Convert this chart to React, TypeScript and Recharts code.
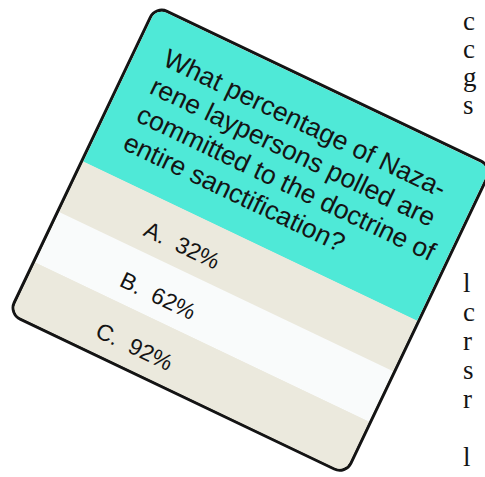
import { BarChart, Bar, XAxis, YAxis, LabelList } from "recharts";

// question card, scanned at an angle
const QUESTION_LINES = [
  "What percentage of Naza-",
  "rene laypersons polled are",
  "committed to the doctrine of",
  "entire sanctification?",
];
const OPTION_KEYS = ["A.", "B.", "C."];
const OPTION_VALUES = [32, 62, 92];
const STRIPE_FILLS = ["#ebe9dd", "#f9fbfb", "#ebe9dd"];

// clipped letters of the neighbouring text column
const COLUMN_TOP = ["c", "c", "g", "s"];
const COLUMN_BOTTOM = ["l", "c", "r", "s", "r", "", "l"];

const CYAN = "#4fe9d7";
const INK = "#141414";

const data = OPTION_KEYS.map((key, i) => ({ key, value: OPTION_VALUES[i] }));

function OptionLabel(props: any) {
  const { x, y, height, index } = props;
  return (
    <text
      x={x + 85}
      y={y + height / 2 + 5}
      dominantBaseline="central"
      fontFamily="'Liberation Sans', Arial, sans-serif"
      fontSize={23}
      fill={INK}
      style={{ whiteSpace: "pre" }}
    >
      {`${OPTION_KEYS[index]}  ${OPTION_VALUES[index]}%`}
    </text>
  );
}

function Stripe(props: any) {
  const { x, y, width, height, index } = props;
  return <rect x={x} y={y} width={width} height={height} fill={STRIPE_FILLS[index]} />;
}

const serif = "'Liberation Serif', 'Times New Roman', serif";

export default function App() {
  return (
    <div style={{ position: "fixed", left: 0, top: 0, width: 485, height: 477, overflow: "hidden", background: "#fff" }}>
      <div
        style={{
          position: "absolute",
          left: 155,
          top: 4,
          width: 376,
          height: 344,
          transform: "rotate(25.5deg)",
          transformOrigin: "0 0",
          border: `3px solid ${INK}`,
          borderRadius: 14,
          overflow: "hidden",
          boxSizing: "border-box",
          background: STRIPE_FILLS[0],
        }}
      >
        <div
          style={{
            height: 170,
            background: CYAN,
            boxSizing: "border-box",
            paddingTop: 25,
            paddingLeft: 29,
            fontFamily: "'Liberation Sans', Arial, sans-serif",
            fontSize: 26.5,
            lineHeight: "31px",
            color: INK,
            whiteSpace: "nowrap",
          }}
        >
          {QUESTION_LINES.map((line) => (
            <div key={line}>{line}</div>
          ))}
        </div>
        <BarChart
          width={370}
          height={168}
          data={data}
          layout="vertical"
          barCategoryGap={0}
          margin={{ top: 0, right: 0, bottom: 0, left: 0 }}
        >
          <XAxis type="number" domain={[0, 100]} hide />
          <YAxis type="category" dataKey="key" hide />
          <Bar dataKey="value" fill="none" background={<Stripe />} isAnimationActive={false}>
            <LabelList dataKey="value" content={<OptionLabel />} />
          </Bar>
        </BarChart>
      </div>

      <div style={{ position: "absolute", left: 463, top: 7, fontFamily: serif, fontSize: 27, lineHeight: "28px", color: INK }}>
        {COLUMN_TOP.map((ch, i) => (
          <div key={i}>{ch}</div>
        ))}
      </div>
      <div style={{ position: "absolute", left: 463, top: 269, fontFamily: serif, fontSize: 27, lineHeight: "29px", color: INK }}>
        {COLUMN_BOTTOM.map((ch, i) => (
          <div key={i} style={{ height: 29 }}>{ch}</div>
        ))}
      </div>
    </div>
  );
}
